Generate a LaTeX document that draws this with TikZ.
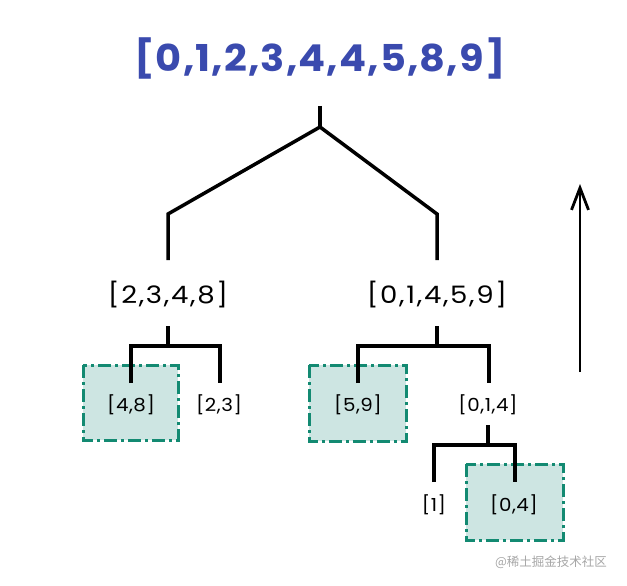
\documentclass[tikz,border=0pt]{standalone}
\usepackage{fontspec}
\setmainfont{Poppins}
\newfontfamily\biglabelfont{Poppins}[FakeStretch=1.15,LetterSpace=7]
\newfontfamily\smalllabelfont{Poppins}[FakeStretch=1.1,LetterSpace=3]
\newfontfamily\titlefont{Poppins}[FakeStretch=1.08,LetterSpace=3]
\newfontfamily\cjkfont{Noto Sans CJK SC}
\usetikzlibrary{arrows.meta}
\definecolor{titleblue}{HTML}{3A4AAE}
\definecolor{tealline}{HTML}{138A72}
\definecolor{tealfill}{HTML}{CDE5E2}
\tikzset{
  branch/.style={line width=3.5pt, line cap=butt, line join=miter},
  pickbox/.style={draw=tealline, fill=tealfill, line width=3pt,
    dash pattern=on 13pt off 4pt on 3pt off 4pt},
  biglabel/.style={font=\biglabelfont\fontsize{24}{27}\selectfont, inner sep=0pt},
  smalllabel/.style={font=\smalllabelfont\fontsize{18}{20}\selectfont, inner sep=0pt},
  titlelabel/.style={font=\titlefont\fontsize{37}{42}\selectfont\bfseries, text=titleblue, inner sep=0pt},
}
\begin{document}
\begin{tikzpicture}[x=1pt,y=-1pt]
\useasboundingbox (0,0) rectangle (627,586);
% boxes
\path[pickbox] (83,365) rectangle (178,440);
\path[pickbox] (309,365) rectangle (406,441);
\path[pickbox] (466,464) rectangle (563,540);
% labels
\node[titlelabel] (root) at (320,58) {[0,1,2,3,4,4,5,8,9]};
\node[biglabel] (L) at (168,295) {[2,3,4,8]};
\node[biglabel] (R) at (437,295) {[0,1,4,5,9]};
\node[smalllabel] (LL) at (131,405) {[4,8]};
\node[smalllabel] (LR) at (219,405) {[2,3]};
\node[smalllabel] (RL) at (358,405) {[5,9]};
\node[smalllabel] (RR) at (488,405) {[0,1,4]};
\node[smalllabel] (RRL) at (434,505) {[1]};
\node[smalllabel] (RRR) at (514,505) {[0,4]};
% top branch
\coordinate (t0) at (320,106);
\coordinate (t1) at (320,127);
\coordinate (tl) at (168,214);
\coordinate (tr) at (437,214);
\draw[branch] (t0) -- (t1);
\draw[branch] (168,260) -- (tl) -- (t1) -- (tr) -- (437,260);
% left branch
\draw[branch] (168,326) -- (168,346);
\draw[branch] (131,383) -- (131,346) -- (220,346) -- (220,383);
% right branch
\draw[branch] (437,326) -- (437,346);
\draw[branch] (358,383) -- (358,346) -- (489,346) -- (489,383);
% right-right branch
\draw[branch] (488,425) -- (488,445);
\draw[branch] (434,482) -- (434,445) -- (515,445) -- (515,482);
% arrow
\coordinate (a0) at (580,372);
\coordinate (a1) at (580,184);
\draw[line width=2.8pt, -{Straight Barb[length=22pt,width=17pt,line width=2.8pt]}] (a0) -- (a1);
% watermark
\node[font=\cjkfont\fontsize{12.5}{14}\selectfont, text=black!35, inner sep=0pt] (wm) at (551,562) {@稀土掘金技术社区};
\end{tikzpicture}
\end{document}
